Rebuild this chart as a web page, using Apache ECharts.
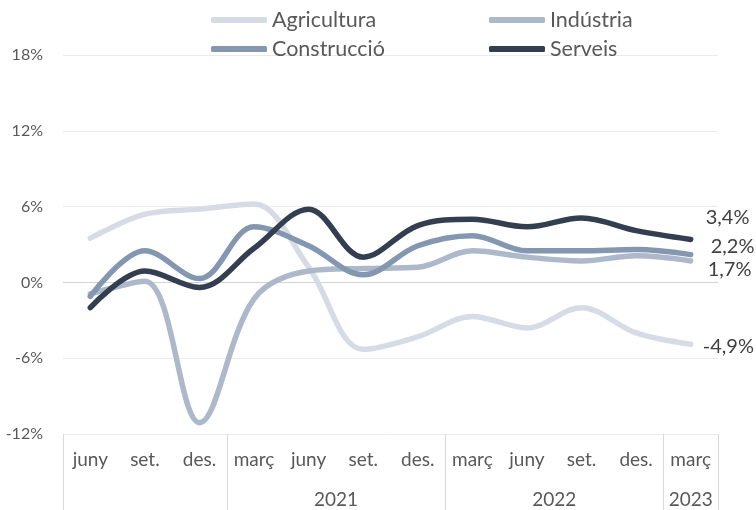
<!DOCTYPE html>
<html><head><meta charset="utf-8">
<script src="https://cdn.jsdelivr.net/npm/echarts@6/dist/echarts.min.js"></script>
<style>html,body{margin:0;padding:0;background:#fff}#c{width:756px;height:510px}</style>
</head><body><div id="c"></div>
<script>
// ---- data ----
const months = ['juny','set.','des.','març','juny','set.','des.','març','juny','set.','des.','març'];
const yearGroups = ['', '2021', '2022', '2023'];
const groupSizes = [3, 4, 4, 1];
const seriesNames = ['Agricultura', 'Indústria', 'Construcció', 'Serveis'];
const agricultura = [3.5, 5.4, 5.8, 6.2, 1.2, -5.3, -4.3, -2.7, -3.6, -2.0, -4.0, -4.9];
const industria   = [-0.9, 0.1, -11.1, -1.3, 0.9, 1.1, 1.2, 2.5, 2.0, 1.7, 2.1, 1.7];
const construccio = [-1.1, 2.5, 0.3, 4.4, 2.9, 0.6, 2.9, 3.7, 2.5, 2.5, 2.6, 2.2];
const serveis     = [-2.0, 0.9, -0.4, 2.7, 5.8, 2.0, 4.5, 5.0, 4.4, 5.1, 4.1, 3.4];

// ---- styles ----
const FONT = 'Lato';
const colors = ['#D6DCE5', '#ADB9CA', '#8497B0', '#333F50'];
const endOffsets = [[12, 2], [17, 9], [20, -8], [15, -22]];
const legendPos = [[211, 9], [489, 9], [211, 38], [489, 38]];

// year axis (half-category resolution, 25 points)
const bounds = [0];
groupSizes.forEach(s => bounds.push(bounds[bounds.length - 1] + s));
const yearAxisData = new Array(months.length * 2 + 1).fill('');
yearGroups.forEach((g, i) => { yearAxisData[bounds[i] + bounds[i + 1]] = g; });
const sepSet = new Set(bounds.map(b => b * 2));

const fmt = v => v.toFixed(1).replace('.', ',') + '%';
const allData = [agricultura, industria, construccio, serveis];

const series = allData.map((vals, si) => ({
  name: seriesNames[si],
  type: 'line',
  xAxisIndex: 0,
  smooth: 0.35,
  symbol: 'none',
  color: colors[si],
  lineStyle: { width: 5.5, color: colors[si], cap: 'round', join: 'round' },
  endLabel: {
    show: true, distance: 0, offset: endOffsets[si],
    formatter: p => fmt(p.value), fontFamily: FONT, fontSize: 20, color: '#404040'
  },
  data: vals
}));

const chart = echarts.init(document.getElementById('c'), null, { renderer: 'canvas' });
chart.setOption({
  animation: false,
  backgroundColor: '#fff',
  grid: { left: 63, right: 38, top: 55, bottom: 76, containLabel: false },
  legend: seriesNames.map((n, i) => ({
    data: [n], left: legendPos[i][0], top: legendPos[i][1],
    icon: 'roundRect', itemWidth: 56, itemHeight: 6, padding: 0,
    textStyle: { fontFamily: FONT, fontSize: 21.5, color: '#595959' }
  })),
  xAxis: [
    {
      type: 'category', data: months, boundaryGap: true, position: 'bottom',
      axisLine: { show: false }, axisTick: { show: false },
      axisLabel: { fontFamily: FONT, fontSize: 19, color: '#595959', margin: 16, interval: 0 },
      splitLine: { show: false }
    },
    {
      type: 'category', data: yearAxisData, boundaryGap: false, position: 'bottom',
      axisLine: { show: false },
      axisTick: { show: true, length: 80, interval: idx => sepSet.has(idx), lineStyle: { color: '#D9D9D9', width: 1 } },
      axisLabel: { fontFamily: FONT, fontSize: 19, color: '#595959', margin: 56, interval: (idx, val) => val !== '' },
      splitLine: { show: false }
    }
  ],
  yAxis: {
    type: 'value', min: -12, max: 18, interval: 6,
    axisLine: { show: false }, axisTick: { show: false },
    axisLabel: { formatter: '{value}%', fontFamily: FONT, fontSize: 16, color: '#595959', margin: 20 },
    splitLine: { lineStyle: { color: ['#EBEBEB', '#EBEBEB', '#D4D4D4', '#EBEBEB', '#EBEBEB', '#EBEBEB'], width: 1 } }
  },
  series: series
});
</script></body></html>
